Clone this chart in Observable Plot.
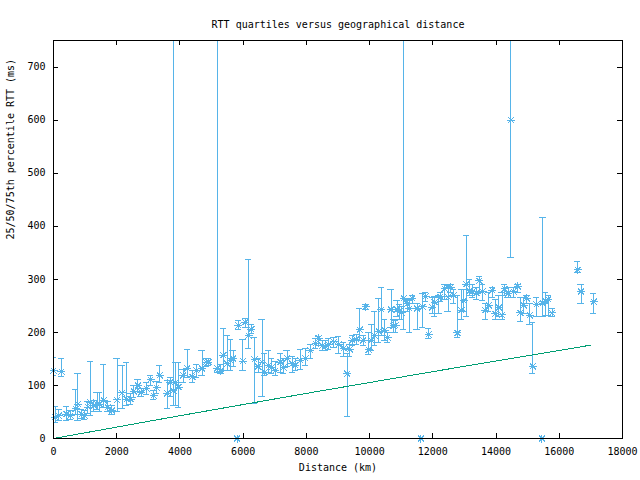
<!DOCTYPE html>
<html>
<head>
<meta charset="utf-8">
<script src="https://cdn.jsdelivr.net/npm/d3@7"></script>
<script src="https://cdn.jsdelivr.net/npm/@observablehq/plot@0.6"></script>
<style>
  html, body { margin: 0; padding: 0; background: white; }
</style>
</head>
<body>
<div id="chart"></div>
<script>
// Distance (km), median RTT, 25th and 75th percentile RTT (ms)
const distance = [0,250,60,170,410,540,700,770,890,990,1090,1170,1280,1380,1460,1590,1720,1850,2010,2170,2310,2440,2540,2670,2770,2940,3070,3170,3260,3360,3600,3700,3790,3860,3960,4100,4230,4390,4520,4700,4830,4900,5180,5280,5370,5490,5600,5680,5850,6070,6260,6170,5990,6360,6600,6470,6680,6800,6900,7020,7180,7280,7390,7550,7650,7810,7970,8130,8290,8390,8500,8600,8710,8870,9020,9180,9290,9370,9450,9580,9690,9800,9880,9970,10050,10160,10290,10370,10480,10570,10680,10760,10870,10950,10820,11010,11080,11190,11260,11350,11500,11680,11770,11870,11980,12060,12190,12240,12380,12480,12570,12660,12780,12900,12980,13060,13160,13260,13380,13470,13580,13660,13770,13880,13980,14090,14190,14270,14380,14470,14560,14690,14770,14880,14970,15070,15160,15280,15480,15560,15650,15770,16580,16690,17090,5810,11620,15450];
const median = [128,126,40,43,46,43,56,65,46,43,59,68,62,65,65,72,59,53,73,86,74,74,89,100,87,94,111,81,96,119,85,106,90,106,97,119,132,116,128,132,144,144,132,127,157,141,147,151,213,219,206,194,146,149,144,136,125,138,134,128,144,134,151,141,138,147,151,166,179,189,175,174,177,182,177,170,122,168,185,187,205,185,248,167,185,194,202,243,204,190,243,212,243,240,213,237,264,254,245,264,245,248,268,196,247,257,265,267,282,267,285,270,199,242,260,291,278,277,274,297,277,242,251,279,235,247,233,282,273,600,277,287,237,251,264,232,136,253,255,259,262,237,318,277,258,0,0,0];
const q25 = [118,117,31,34,34,35,45,34,38,36,48,43,50,55,50,59,50,45,50,56,62,64,78,88,80,82,100,74,85,105,57,80,62,62,59,105,115,105,115,118,135,137,125,122,128,128,128,135,205,210,198,170,128,66,79,125,118,125,122,118,125,122,135,125,128,130,138,150,170,175,165,165,168,172,160,155,42,155,175,178,185,175,243,158,165,175,180,195,185,180,210,200,230,225,200,225,206,240,200,255,205,210,258,188,235,230,235,258,262,240,275,255,190,225,240,229,270,265,262,275,260,225,240,265,225,230,225,270,265,341,265,275,220,235,255,215,122,230,230,232,232,230,312,254,235,0,0,0];
const q75 = [152,151,60,55,60,52,92,123,55,52,70,146,72,87,87,140,70,62,150,138,144,85,100,112,95,105,118,90,108,138,109,115,1000,144,144,130,168,128,140,166,150,150,1000,140,207,194,187,165,222,226,214,338,187,191,225,150,160,165,150,145,160,150,165,155,150,168,170,178,188,192,185,185,188,190,192,180,160,178,195,196,245,195,252,200,215,240,264,285,225,200,280,225,260,252,222,248,1000,262,260,270,255,274,275,208,265,268,270,275,290,288,290,280,270,280,280,383,300,290,285,305,290,255,275,285,262,270,275,290,285,1000,285,290,265,265,270,255,219,265,416,275,270,245,333,290,274,0,0,0];

// Lower-bound line
const lineDistance = [0, 4000, 8000, 12000, 17000];
const lineRtt = [0, 43, 85, 126, 176];

const xTicks = [0,2000,4000,6000,8000,10000,12000,14000,16000,18000];
const yTicks = [0,100,200,300,400,500,600,700];

const pts = distance.map((d, i) => ({x: d, y: median[i], lo: q25[i], hi: q75[i]}));
const bars = pts.filter(d => d.hi > d.lo);
const lineData = lineDistance.map((d, i) => ({x: d, y: lineRtt[i]}));

const blue = "#56b4e9";
const green = "#009e73";
const W = 640, H = 480, mL = 53, mR = 18, mT = 40, mB = 42;
const pw = W - mL - mR, ph = H - mT - mB;
const tk = 5;
const crisp = "crispEdges";

const star = {
  draw(ctx, size) {
    const r = Math.sqrt(size / Math.PI);
    const d = r * 0.75;
    ctx.moveTo(-r, 0); ctx.lineTo(r, 0);
    ctx.moveTo(0, -r); ctx.lineTo(0, r);
    ctx.moveTo(-d, -d); ctx.lineTo(d, d);
    ctx.moveTo(-d, d); ctx.lineTo(d, -d);
  }
};

const chart = Plot.plot({
  width: W, height: H,
  marginLeft: mL, marginRight: mR, marginTop: mT, marginBottom: mB,
  style: {fontFamily: "DejaVu Sans Mono", fontSize: "10px", color: "black", background: "white"},
  x: {domain: [0, 18000]},
  y: {domain: [0, 750]},
  marks: [
    Plot.axisY({ticks: yTicks, tickSize: 0, tickPadding: 8, label: null, tickFormat: d => String(d)}),
    Plot.axisX({ticks: xTicks, tickSize: 0, tickPadding: 9, label: null, tickFormat: d => String(d)}),
    Plot.tickY(yTicks, {y: d => d, insetRight: pw - tk, stroke: "black", shapeRendering: crisp}),
    Plot.tickY(yTicks, {y: d => d, insetLeft: pw - tk, stroke: "black", shapeRendering: crisp}),
    Plot.tickX(xTicks, {x: d => d, insetTop: ph - tk, stroke: "black", shapeRendering: crisp}),
    Plot.tickX(xTicks, {x: d => d, insetBottom: ph - tk, stroke: "black", shapeRendering: crisp}),
    Plot.ruleX(bars, {x: "x", y1: "lo", y2: "hi", stroke: blue, strokeWidth: 1, clip: true, shapeRendering: crisp}),
    Plot.ruleY(bars, {y: "lo", x1: d => d.x - 100, x2: d => d.x + 100, stroke: blue, strokeWidth: 1, clip: true, shapeRendering: crisp}),
    Plot.ruleY(bars, {y: "hi", x1: d => d.x - 100, x2: d => d.x + 100, stroke: blue, strokeWidth: 1, clip: true, shapeRendering: crisp}),
    Plot.dot(pts, {x: "x", y: "y", r: 4, symbol: star, stroke: blue, strokeWidth: 1, fill: "none", shapeRendering: crisp}),
    Plot.line(lineData, {x: "x", y: "y", stroke: green, strokeWidth: 1, shapeRendering: crisp}),
    Plot.frame({stroke: "black", shapeRendering: crisp}),
    Plot.text(["RTT quartiles versus geographical distance"], {frameAnchor: "top", dy: -20, fontSize: 10}),
    Plot.text(["Distance (km)"], {frameAnchor: "bottom", dy: 32, fontSize: 10}),
    Plot.text(["25/50/75th percentile RTT (ms)"], {frameAnchor: "left", dx: -43, rotate: -90, fontSize: 10})
  ]
});
document.getElementById("chart").appendChild(chart);
</script>
</body>
</html>
